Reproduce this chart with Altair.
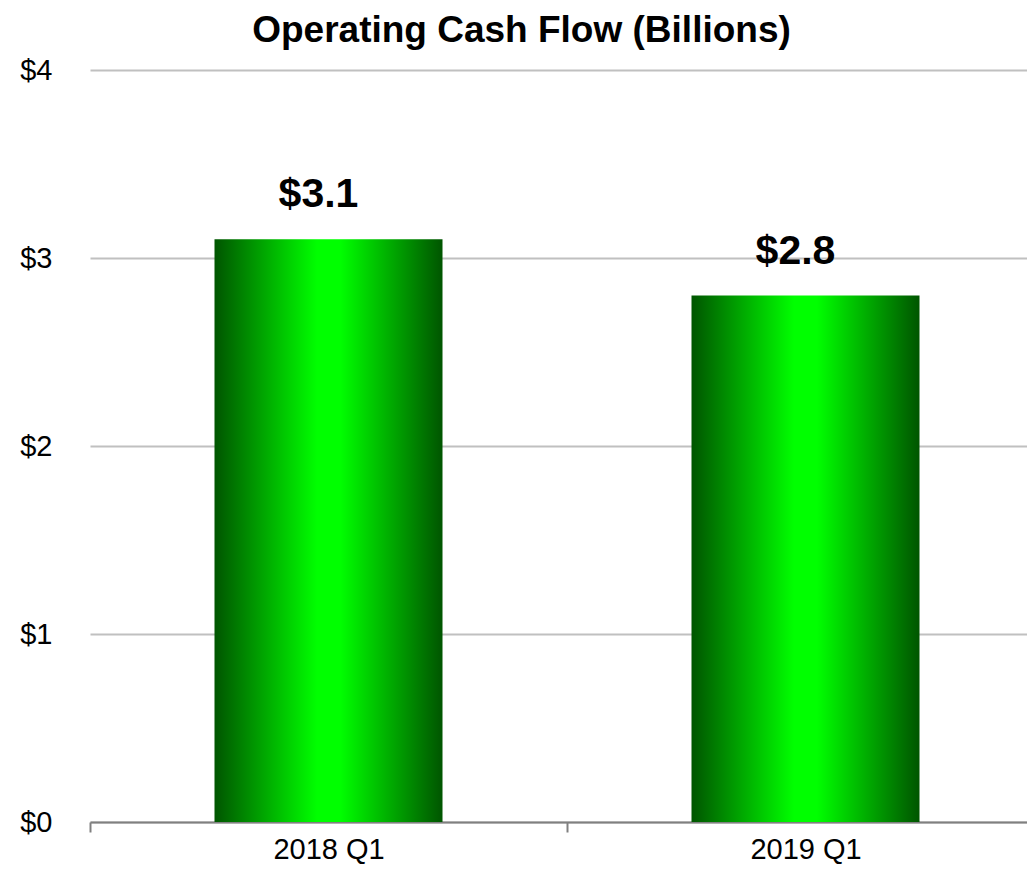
import altair as alt
import pandas as pd

quarters = ["2018 Q1", "2019 Q1"]
cash_flow = [3.1, 2.8]
y_ticks = [0, 1, 2, 3, 4]

df = pd.DataFrame({"quarter": quarters, "value": cash_flow})

W, H = 937, 752
STEP = 477
FONT = "Liberation Sans"

gradient = alt.Gradient(
    gradient="linear", x1=0, x2=1, y1=0, y2=0,
    stops=[
        alt.GradientStop(color="#005500", offset=0),
        alt.GradientStop(color="#00ff00", offset=0.45),
        alt.GradientStop(color="#00ff00", offset=0.55),
        alt.GradientStop(color="#005500", offset=1),
    ],
)

x_enc = alt.X(
    "quarter:N", sort=quarters, title=None,
    scale=alt.Scale(range=[0, 2 * STEP], paddingInner=0, paddingOuter=0),
    axis=alt.Axis(
        labelAngle=0, labelFontSize=29, labelColor="black", labelFont=FONT,
        labelPadding=3, tickBand="extent", tickSize=10, tickColor="#808080",
        tickWidth=2, domainColor="#808080", domainWidth=2, grid=False,
    ),
)

y_enc = alt.Y(
    "value:Q", title=None,
    scale=alt.Scale(domain=[0, 4], nice=False),
    axis=alt.Axis(
        values=y_ticks, labelExpr="'$' + datum.value", labelFontSize=29,
        labelFont=FONT, labelColor="black", labelPadding=38, domain=False,
        ticks=False, gridColor="#c0c0c0", gridWidth=2,
    ),
)

bars = alt.Chart(df).mark_bar(width=228, color=gradient).encode(x=x_enc, y=y_enc)

text = alt.Chart(df).mark_text(
    fontSize=41, fontWeight="bold", font=FONT, color="black",
    baseline="alphabetic", dy=-32, dx=-10,
).encode(
    x=alt.X("quarter:N", sort=quarters),
    y=alt.Y("value:Q"),
    text=alt.Text("value:Q", format="$.1f"),
)

chart = alt.layer(bars, text).properties(
    width=W, height=H,
    title=alt.TitleParams(
        "Operating Cash Flow (Billions)", fontSize=37, fontWeight="bold",
        font=FONT, color="black", anchor="middle", frame="group",
        dx=-37, dy=-2,
    ),
    autosize=alt.AutoSizeParams(type="none"),
    padding={"left": 82, "top": 62, "right": 0, "bottom": 43},
).configure_view(stroke=None)

chart.save("out.html", embed_options={"renderer": "svg", "actions": False})
